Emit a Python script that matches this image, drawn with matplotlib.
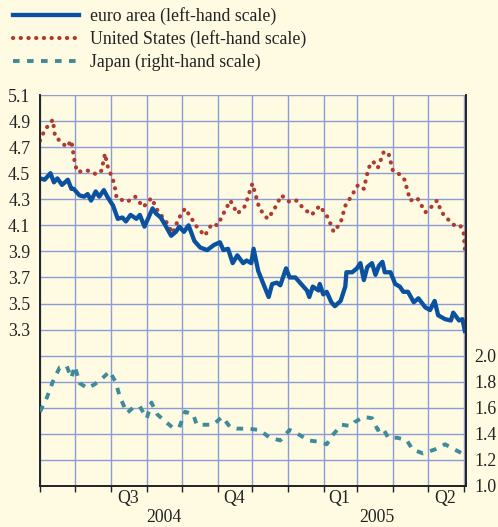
import pandas as pd
import matplotlib.pyplot as plt
import matplotlib.dates as mdates
from matplotlib.lines import Line2D

# euro area, left-hand scale
euro_dates = ["2004-06-01", "2004-06-05", "2004-06-10", "2004-06-13", "2004-06-16", "2004-06-20",
              "2004-06-25", "2004-06-28", "2004-06-30", "2004-07-05", "2004-07-09", "2004-07-12",
              "2004-07-15", "2004-07-19", "2004-07-22", "2004-07-26", "2004-07-29", "2004-08-03",
              "2004-08-07", "2004-08-11", "2004-08-14", "2004-08-18", "2004-08-23", "2004-08-26",
              "2004-08-30", "2004-09-02", "2004-09-06", "2004-09-09", "2004-09-13", "2004-09-17",
              "2004-09-22", "2004-09-26", "2004-09-29", "2004-10-03", "2004-10-07", "2004-10-12",
              "2004-10-17", "2004-10-23", "2004-10-29", "2004-11-03", "2004-11-06", "2004-11-10",
              "2004-11-14", "2004-11-18", "2004-11-23", "2004-11-26", "2004-11-30", "2004-12-02",
              "2004-12-06", "2004-12-10", "2004-12-15", "2004-12-18", "2004-12-22", "2004-12-25",
              "2004-12-30", "2005-01-02", "2005-01-07", "2005-01-12", "2005-01-17", "2005-01-19",
              "2005-01-22", "2005-01-27", "2005-01-28", "2005-01-31", "2005-02-03", "2005-02-07",
              "2005-02-10", "2005-02-15", "2005-02-19", "2005-02-20", "2005-02-25", "2005-03-01",
              "2005-03-04", "2005-03-07", "2005-03-10", "2005-03-14", "2005-03-17", "2005-03-20",
              "2005-03-23", "2005-03-25", "2005-03-30", "2005-04-03", "2005-04-07", "2005-04-10",
              "2005-04-14", "2005-04-19", "2005-04-23", "2005-04-29", "2005-05-03", "2005-05-07",
              "2005-05-10", "2005-05-16", "2005-05-21", "2005-05-23", "2005-05-28", "2005-05-31",
              "2005-06-02"]
euro = [4.46, 4.45, 4.50, 4.43, 4.46, 4.41, 4.45, 4.38, 4.38, 4.33, 4.32, 4.34,
        4.29, 4.36, 4.32, 4.37, 4.32, 4.25, 4.15, 4.16, 4.13, 4.18, 4.15, 4.18,
        4.09, 4.15, 4.23, 4.19, 4.16, 4.10, 4.02, 4.05, 4.09, 4.05, 4.10, 3.98,
        3.93, 3.91, 3.95, 3.97, 3.91, 3.92, 3.81, 3.87, 3.81, 3.83, 3.81, 3.92,
        3.75, 3.66, 3.55, 3.65, 3.66, 3.64, 3.77, 3.70, 3.70, 3.65, 3.60, 3.55,
        3.63, 3.60, 3.65, 3.57, 3.59, 3.51, 3.48, 3.52, 3.63, 3.74, 3.74, 3.77,
        3.81, 3.68, 3.78, 3.81, 3.72, 3.79, 3.82, 3.74, 3.74, 3.65, 3.63, 3.59,
        3.59, 3.51, 3.54, 3.47, 3.45, 3.52, 3.41, 3.38, 3.37, 3.43, 3.37, 3.38,
        3.29]

# United States, left-hand scale
us_dates = ["2004-06-01", "2004-06-05", "2004-06-12", "2004-06-14", "2004-06-18", "2004-06-24",
            "2004-06-28", "2004-07-01", "2004-07-03", "2004-07-12", "2004-07-20", "2004-07-24",
            "2004-07-27", "2004-07-29", "2004-08-04", "2004-08-06", "2004-08-15", "2004-08-22",
            "2004-08-29", "2004-09-05", "2004-09-11", "2004-09-17", "2004-09-23", "2004-09-29",
            "2004-10-04", "2004-10-09", "2004-10-14", "2004-10-21", "2004-10-27", "2004-11-01",
            "2004-11-06", "2004-11-12", "2004-11-18", "2004-11-24", "2004-11-27", "2004-11-29",
            "2004-12-01", "2004-12-07", "2004-12-14", "2004-12-19", "2004-12-26", "2005-01-02",
            "2005-01-08", "2005-01-14", "2005-01-21", "2005-01-28", "2005-02-04", "2005-02-09",
            "2005-02-15", "2005-02-19", "2005-02-24", "2005-03-02", "2005-03-07", "2005-03-11",
            "2005-03-15", "2005-03-19", "2005-03-24", "2005-03-28", "2005-04-01", "2005-04-07",
            "2005-04-11", "2005-04-16", "2005-04-22", "2005-04-29", "2005-05-03", "2005-05-09",
            "2005-05-13", "2005-05-18", "2005-05-24", "2005-05-29", "2005-06-01", "2005-06-02"]
us = [4.75, 4.83, 4.91, 4.78, 4.75, 4.70, 4.75, 4.58, 4.51, 4.52, 4.49, 4.52,
      4.65, 4.56, 4.42, 4.31, 4.28, 4.32, 4.24, 4.31, 4.20, 4.14, 4.04, 4.16,
      4.23, 4.16, 4.09, 4.02, 4.11, 4.10, 4.19, 4.29, 4.19, 4.24, 4.31, 4.37,
      4.42, 4.23, 4.15, 4.21, 4.33, 4.28, 4.29, 4.23, 4.18, 4.25, 4.16, 4.05,
      4.12, 4.25, 4.32, 4.41, 4.38, 4.54, 4.59, 4.54, 4.66, 4.66, 4.52, 4.49,
      4.45, 4.29, 4.31, 4.20, 4.23, 4.29, 4.20, 4.15, 4.10, 4.10, 4.04, 3.92]

# Japan, right-hand scale
jp_dates = ["2004-06-01", "2004-06-07", "2004-06-12", "2004-06-18", "2004-06-24", "2004-06-28",
            "2004-07-01", "2004-07-05", "2004-07-12", "2004-07-18", "2004-07-24", "2004-07-31",
            "2004-08-05", "2004-08-09", "2004-08-15", "2004-08-20", "2004-08-26", "2004-09-01",
            "2004-09-05", "2004-09-10", "2004-09-15", "2004-09-23", "2004-09-29", "2004-10-04",
            "2004-10-11", "2004-10-14", "2004-10-21", "2004-10-28", "2004-11-05", "2004-11-12",
            "2004-11-18", "2004-11-27", "2004-12-07", "2004-12-16", "2004-12-25", "2005-01-02",
            "2005-01-11", "2005-01-18", "2005-01-27", "2005-02-03", "2005-02-08", "2005-02-16",
            "2005-02-24", "2005-02-27", "2005-03-07", "2005-03-14", "2005-03-19", "2005-03-23",
            "2005-03-28", "2005-04-05", "2005-04-13", "2005-04-18", "2005-04-27", "2005-05-07",
            "2005-05-16", "2005-05-22", "2005-06-02"]
japan = [1.57, 1.68, 1.80, 1.91, 1.92, 1.83, 1.92, 1.79, 1.75, 1.78, 1.82, 1.88,
         1.80, 1.68, 1.56, 1.60, 1.61, 1.52, 1.64, 1.55, 1.51, 1.45, 1.45, 1.57,
         1.55, 1.47, 1.47, 1.47, 1.53, 1.45, 1.44, 1.44, 1.43, 1.37, 1.35, 1.43,
         1.39, 1.35, 1.34, 1.32, 1.39, 1.47, 1.46, 1.49, 1.53, 1.52, 1.43, 1.45,
         1.37, 1.37, 1.35, 1.28, 1.25, 1.28, 1.32, 1.29, 1.24]

right_ticks = [1.0, 1.2, 1.4, 1.6, 1.8, 2.0]
quarters = ["Q3", "Q4", "Q1", "Q2"]
quarter_mid = ["2004-08-16", "2004-11-15", "2005-02-14", "2005-05-16"]
years = ["2004", "2005"]
year_mid = ["2004-09-16", "2005-03-18"]

bg = "#fefbe2"
plt.rcParams["font.family"] = "Liberation Serif"
plt.rcParams["font.size"] = 12.8

fig = plt.figure(figsize=(4.98, 5.27), dpi=100, facecolor=bg)
ax = fig.add_axes([40 / 498, 1 - 486 / 527, 426 / 498, 391 / 527], facecolor=bg)
ax2 = ax.twinx()

ax.set_ylim(2.1, 5.1)
ax2.set_ylim(1.0, 4.0)
ax.set_xlim(pd.Timestamp("2004-06-01"), pd.Timestamp("2005-06-03"))

# grid every 0.2, labels only from 3.3 up on the left
grid_y = [2.1 + 0.2 * i for i in range(16)]
ax.set_yticks(grid_y)
ax.set_yticklabels([f"{v:.1f}" if v > 3.2 else "" for v in grid_y])
ax.grid(True, color="#8d9bd3", lw=1.0)
ax.set_axisbelow(True)
ax2.set_yticks(right_ticks)
ax2.set_yticklabels([f"{v:.1f}" for v in right_ticks])

ax.xaxis.set_major_locator(mdates.MonthLocator())
ax.xaxis.set_major_formatter(plt.NullFormatter())
ax.set_xticks(pd.to_datetime(quarter_mid), minor=True)
ax.set_xticklabels(quarters, minor=True)
ax.tick_params(axis="x", which="major", length=4, width=1, color="#222222")
ax.tick_params(axis="x", which="minor", length=0, pad=3, labelcolor="#222222")
ax.tick_params(axis="y", length=0, pad=7, labelcolor="#222222")
ax2.tick_params(axis="y", length=0, pad=6, labelcolor="#222222")

for t, y in zip(years, year_mid):
    ax.text(pd.Timestamp(y), -0.08, t, transform=ax.get_xaxis_transform(),
            ha="center", va="center", color="#222222")

for a in (ax, ax2):
    a.spines["top"].set_visible(False)
    for s in ("left", "right", "bottom"):
        a.spines[s].set_color("#222222")
        a.spines[s].set_linewidth(1.2)

us_style = dict(color="#b03a2e", lw=3.0, linestyle=(0, (0.05, 1.8)), dash_capstyle="round")
jp_style = dict(color="#3f8b9c", lw=2.8, linestyle=(0, (1.7, 1.9)))
euro_style = dict(color="#0a52a0", lw=3.1)

ax.plot(pd.to_datetime(us_dates), us, zorder=3, **us_style)
ax.plot(pd.to_datetime(euro_dates), euro, zorder=4, **euro_style)
ax2.plot(pd.to_datetime(jp_dates), japan, zorder=3, **jp_style)

handles = [Line2D([], [], **euro_style), Line2D([], [], **us_style), Line2D([], [], **jp_style)]
labels = ["euro area (left-hand scale)", "United States (left-hand scale)",
          "Japan (right-hand scale)"]
fig.legend(handles, labels, loc="upper left", bbox_to_anchor=(0.005, 1.007), frameon=False,
           handlelength=3.7, labelspacing=0.3, handletextpad=0.65, borderaxespad=0.2,
           labelcolor="#222222")

fig.savefig("out.png", dpi=100, facecolor=bg)
